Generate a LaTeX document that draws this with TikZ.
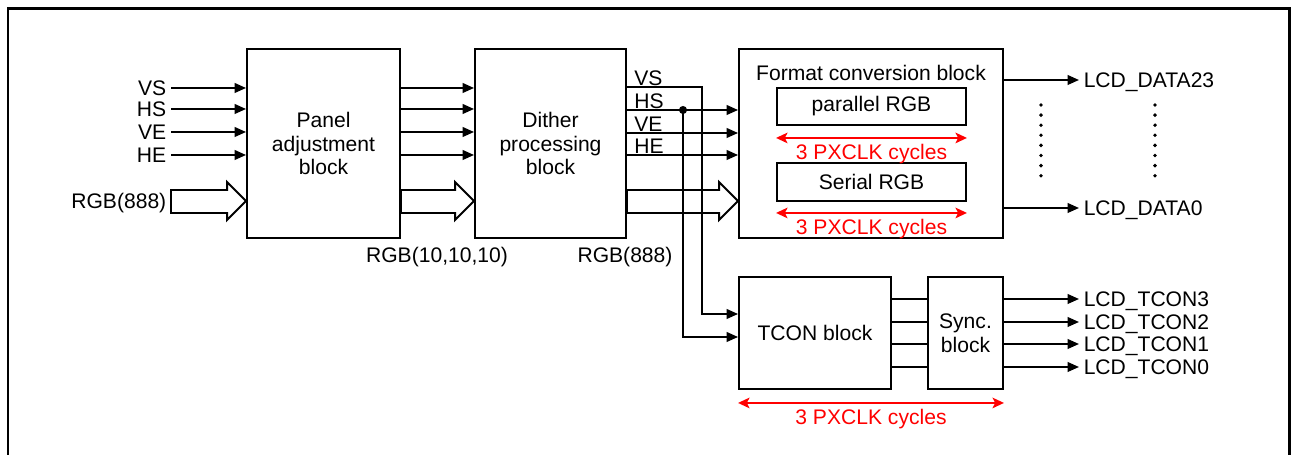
\documentclass[tikz,border=0pt]{standalone}
\usepackage{fontspec}
\setmainfont{Liberation Sans}
\usetikzlibrary{arrows.meta,calc,positioning}
\tikzset{
  blk/.style={draw,line width=1.1pt,align=center,inner sep=0pt},
  sig/.style={line width=1.1pt,-{Triangle[length=6.5pt,width=5.5pt]}},
  wire/.style={line width=1.1pt},
  fat/.style={line width=1.1pt,line join=miter},
  cyc/.style={red,line width=1.1pt,{Stealth[length=6.5pt,width=6pt,inset=1.5pt]}-{Stealth[length=6.5pt,width=6pt,inset=1.5pt]}},
  lbl/.style={inner sep=2.5pt,text height=8.6pt,text depth=0pt},
  cyclbl/.style={red,below,inner sep=3pt,text height=8.6pt,text depth=0pt},
  frame/.style={line width=1.7pt}
}
\newcommand\fatarrow[2]{\draw[fat] (#1 |- rT) -- ($(#2 |- rT)+(-19,0)$) -- ($(#2 |- hT)+(-19,0)$) -- (#2 |- rM) -- ($(#2 |- hB)+(-19,0)$) -- ($(#2 |- rB)+(-19,0)$) -- (#1 |- rB) -- cycle;}
\begin{document}
\begin{tikzpicture}[x=0.02cm,y=-0.02cm,font=\fontsize{12}{13.6}\selectfont]
\useasboundingbox (0,0) rectangle (1292,455);
\draw[frame] (8,455) -- (8,9) -- (1289,9) -- (1289,455);
% rows of the wide RGB arrows
\coordinate (hT) at (0,182); \coordinate (rT) at (0,190); \coordinate (rM) at (0,201);
\coordinate (rB) at (0,213); \coordinate (hB) at (0,220);
% blocks
\node[blk,minimum width=3.06cm,minimum height=3.78cm] (panel) at (323.5,143.5) {Panel\\adjustment\\block};
\node[blk,minimum width=3.02cm,minimum height=3.78cm] (dither) at (550.5,143.5) {Dither\\processing\\block};
\node[blk,minimum width=5.28cm,minimum height=3.78cm] (format) at (871,143.5) {};
\node (fmttitle) at (871,73) {Format conversion block};
\node[blk,minimum width=3.78cm,minimum height=0.74cm] (prgb) at (871.5,106.5) {parallel RGB};
\node[blk,minimum width=3.78cm,minimum height=0.76cm] (srgb) at (871.5,182) {Serial RGB};
\node[blk,minimum width=3.04cm,minimum height=2.24cm] (tcon) at (815,333) {TCON block};
\node[blk,minimum width=1.5cm,minimum height=2.24cm] (sync) at (965.5,333) {Sync.\\block};
% inputs
\foreach \s/\y in {VS/88,HS/109,VE/132,HE/155}{
  \node[lbl,anchor=east] (in\s) at (171,\y) {\s};
  \draw[sig] (in\s.east) -- (panel.west |- in\s.east);
  \draw[sig] (panel.east |- in\s.east) -- (dither.west |- in\s.east);
}
\coordinate (inRGB) at (171,201);
\node[lbl,anchor=east] (inrgblbl) at (inRGB) {RGB(888)};
\fatarrow{inRGB}{panel.west}
\fatarrow{panel.east}{dither.west}
\fatarrow{dither.east}{format.west}
\node (rgb10) at (437,257) {RGB(10,10,10)};
\node (rgb888) at (625,257) {RGB(888)};
% dither outputs
\foreach \s/\y in {VS/87,HS/110,VE/133,HE/155}{
  \node[anchor=base west,inner sep=0pt] (out\s) at (634,\y-1) {\s};
  \coordinate (r\s) at (0,\y);
}
\coordinate (vsdown) at (702,314); \coordinate (hsdot) at (683,110); \coordinate (hsin) at (0,337);
\draw[sig] (dither.east |- rVS) -| (vsdown) -- (tcon.west |- vsdown);
\draw[sig] (dither.east |- rHS) -- (format.west |- rHS);
\fill (hsdot) circle (2.3pt);
\draw[sig] (hsdot) |- (tcon.west |- hsin);
\foreach \s in {VE,HE}{\draw[sig] (dither.east |- r\s) -- (format.west |- r\s);}
% format outputs
\node[lbl,anchor=west] (d23) at (1079,80) {LCD\_DATA23};
\node[lbl,anchor=west] (d0) at (1079,208) {LCD\_DATA0};
\draw[sig] (format.east |- d23.west) -- (d23.west);
\draw[sig] (format.east |- d0.west) -- (d0.west);
\foreach \k in {0,...,7}{\fill (1041,105+10.1*\k) circle (1.1pt); \fill (1155,105+10.1*\k) circle (1.1pt);}
% timing controller outputs
\foreach \k/\y in {3/299,2/322,1/344,0/367}{
  \coordinate (t\k) at (0,\y);
  \draw[wire] (tcon.east |- t\k) -- (sync.west |- t\k);
  \node[lbl,anchor=west] (tc\k) at (1079,\y) {LCD\_TCON\k};
  \draw[sig] (sync.east |- t\k) -- (tc\k.west);
}
% cycle markers
\draw[cyc] ([yshift=-0.24cm]prgb.south west) -- node[cyclbl] (cyc1) {3 PXCLK cycles} ([yshift=-0.24cm]prgb.south east);
\draw[cyc] ([yshift=-0.22cm]srgb.south west) -- node[cyclbl] (cyc2) {3 PXCLK cycles} ([yshift=-0.22cm]srgb.south east);
\draw[cyc] ([yshift=-0.26cm]tcon.south west) -- node[cyclbl] (cyc3) {3 PXCLK cycles} ([yshift=-0.26cm]sync.south east);
\end{tikzpicture}
\end{document}
